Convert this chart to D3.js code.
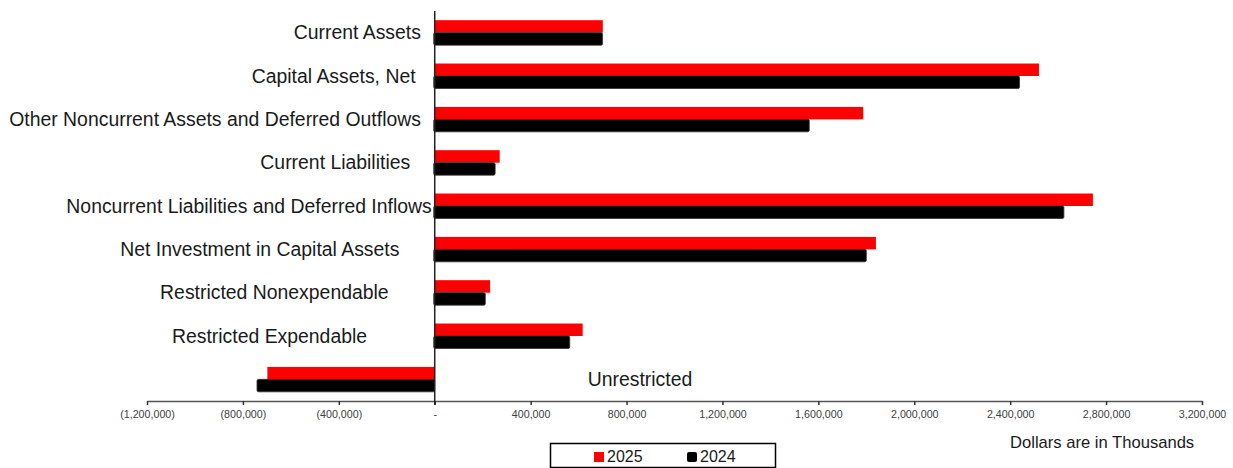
<!DOCTYPE html>
<html>
<head>
<meta charset="utf-8">
<script src="https://cdn.jsdelivr.net/npm/d3@7"></script>
<style>
  body { margin: 0; background: #ffffff; }
  svg { display: block; font-family: "Liberation Sans", Arial, sans-serif; }
  text { white-space: pre; }
</style>
</head>
<body>
<svg id="chart" width="1233" height="468"></svg>
<script>
// ---- data (values in thousands of dollars) ----
const categories = [
  "Current Assets  ",
  "Capital Assets, Net   ",
  "Other Noncurrent Assets and Deferred Outflows  ",
  "Current Liabilities    ",
  "Noncurrent Liabilities and Deferred Inflows",
  "Net Investment in Capital Assets      ",
  "Restricted Nonexpendable        ",
  "Restricted Expendable            ",
  "Unrestricted"
];
const seriesNames = ["2025", "2024"];
const values2025 = [701000, 2520000, 1787000, 271000, 2745000, 1840000, 231000, 617000, -698000];
const values2024 = [700000, 2439000, 1562000, 252000, 2624000, 1800000, 211000, 563000, -737000];
const tickValues = [-1200000, -800000, -400000, 0, 400000, 800000, 1200000, 1600000, 2000000, 2400000, 2800000, 3200000];
const unitsNote = "Dollars are in Thousands";

const colors = { "2025": "#ff0000", "2024": "#000000" };
const seriesValues = { "2025": values2025, "2024": values2024 };

const svg = d3.select("#chart");

const x = d3.scaleLinear().domain([-1200000, 3200000]).range([147, 1202]);
const y = d3.scaleBand().domain(categories).range([11, 401]).paddingInner(0.424).paddingOuter(0.212);
const ySub = d3.scaleBand().domain(seriesNames).range([0, y.bandwidth()]);

const fmt = d3.format(",");
const tickFmt = v => v === 0 ? "-" : (v < 0 ? "(" + fmt(-v) + ")" : fmt(v));

// x axis
const xAxis = svg.append("g")
  .attr("transform", "translate(0,401)")
  .call(d3.axisBottom(x).tickValues(tickValues).tickFormat(tickFmt).tickSizeInner(4).tickSizeOuter(0).tickPadding(5));
xAxis.select(".domain").attr("stroke", "#555").attr("stroke-width", 1.5);
xAxis.selectAll(".tick line").attr("stroke", "#333").attr("stroke-width", 1.5);
xAxis.selectAll(".tick text")
  .attr("fill", "#404040")
  .style("font-size", "10.7px")
  .style("font-family", "'Liberation Sans', Arial, sans-serif");

// bars
const groups = svg.append("g").selectAll("g")
  .data(categories.map((c, i) => ({ c, i })))
  .join("g")
  .attr("transform", d => `translate(0,${y(d.c)})`);

groups.selectAll("rect")
  .data(d => seriesNames.map(s => ({ s, v: seriesValues[s][d.i] })))
  .join("rect")
  .attr("x", d => Math.min(x(0), x(d.v)) - (d.s === "2024" ? 1 : 0))
  .attr("y", d => ySub(d.s))
  .attr("width", d => Math.abs(x(d.v) - x(0)) + (d.s === "2024" ? 1 : 0))
  .attr("height", d => ySub.bandwidth())
  .attr("rx", d => d.s === "2024" ? 1.5 : 0)
  .attr("fill", d => colors[d.s])
  .attr("stroke", d => d.s === "2024" ? "#333" : "none")
  .attr("stroke-width", 0.8);

// vertical zero axis
svg.append("line")
  .attr("x1", x(0)).attr("x2", x(0))
  .attr("y1", 11).attr("y2", 405)
  .attr("stroke", "#222").attr("stroke-width", 1.5);

// category labels
svg.append("g").selectAll("text")
  .data(categories.map((c, i) => ({ c, i })))
  .join("text")
  .attr("x", d => values2025[d.i] < 0 ? x(0) + 153 : x(0) - 3)
  .attr("y", d => y(d.c) + y.bandwidth() / 2 + 6.5)
  .attr("text-anchor", d => values2025[d.i] < 0 ? "start" : "end")
  .attr("fill", "#1a1a1a")
  .style("font-size", "19.4px")
  .text(d => d.c);

// units note
svg.append("text")
  .attr("x", 1010).attr("y", 448)
  .attr("fill", "#1a1a1a")
  .style("font-size", "16.6px")
  .text(unitsNote);

// legend
const legend = svg.append("g");
legend.append("rect")
  .attr("x", 550.5).attr("y", 443.5).attr("width", 225).attr("height", 24)
  .attr("fill", "#fff").attr("stroke", "#000").attr("stroke-width", 1.5);
const legendX = { "2025": 594, "2024": 687 };
const items = legend.selectAll("g.item").data(seriesNames).join("g").attr("class", "item");
items.append("rect")
  .attr("x", d => legendX[d]).attr("y", 452)
  .attr("width", 10).attr("height", 10)
  .attr("rx", d => d === "2024" ? 2 : 0)
  .attr("fill", d => colors[d]);
items.append("text")
  .attr("x", d => legendX[d] + 13).attr("y", 461.5)
  .attr("fill", "#1a1a1a")
  .style("font-size", "16px")
  .text(d => d);
</script>
</body>
</html>
